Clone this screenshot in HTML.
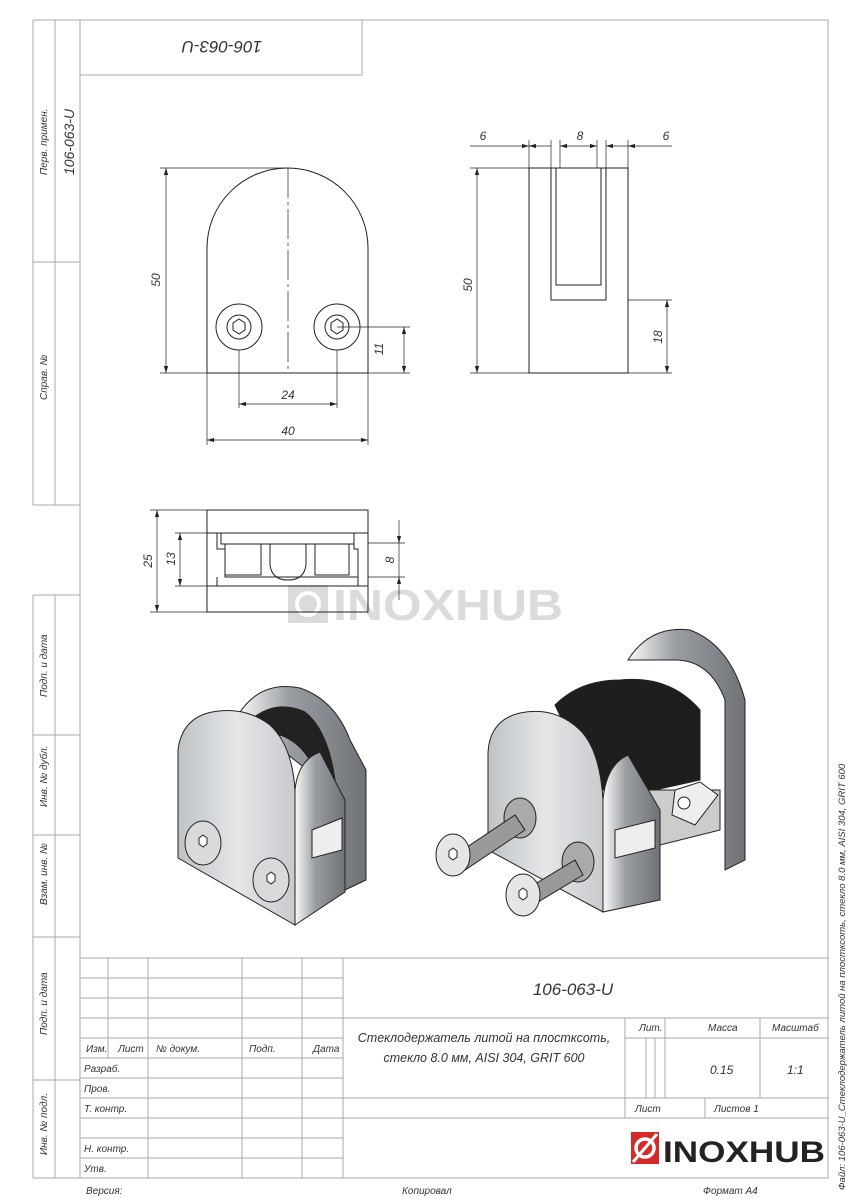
<!DOCTYPE html>
<html><head><meta charset="utf-8"><style>
body{margin:0;background:#fff}
svg{display:block}
text{font-family:"Liberation Sans","DejaVu Sans",sans-serif;font-style:italic;fill:#333}
text.n{font-style:normal;font-weight:bold}
</style></head><body>
<svg width="848" height="1200" viewBox="0 0 848 1200" xmlns="http://www.w3.org/2000/svg">
<defs>
<marker id="a" viewBox="0 0 10 6" refX="10" refY="3" markerWidth="10" markerHeight="6" orient="auto-start-reverse"><path d="M0,0L10,3L0,6Z" fill="#222"/></marker>
<linearGradient id="m" x1="0" x2="1"><stop offset="0" stop-color="#bfc3c6"/><stop offset=".5" stop-color="#e4e6e8"/><stop offset="1" stop-color="#c8cbce"/></linearGradient>
<linearGradient id="s" x1="0" x2="1"><stop offset="0" stop-color="#fafafa"/><stop offset=".4" stop-color="#9a9ea2"/><stop offset="1" stop-color="#6f7377"/></linearGradient>
</defs>
<g fill="none" stroke="#aaa" stroke-width="1">
<rect x="80" y="20" width="748" height="1158"/>
<line x1="33" y1="20" x2="80" y2="20"/><line x1="33" y1="20" x2="33" y2="505"/><line x1="55" y1="20" x2="55" y2="505"/>
<line x1="33" y1="262" x2="80" y2="262"/><line x1="33" y1="505" x2="80" y2="505"/>
<line x1="33" y1="595" x2="80" y2="595"/><line x1="33" y1="595" x2="33" y2="1178"/><line x1="55" y1="595" x2="55" y2="1178"/>
<line x1="33" y1="735" x2="80" y2="735"/><line x1="33" y1="835" x2="80" y2="835"/><line x1="33" y1="937" x2="80" y2="937"/><line x1="33" y1="1080" x2="80" y2="1080"/><line x1="33" y1="1178" x2="80" y2="1178"/>
<rect x="80" y="20" width="282" height="55"/>
<line x1="80" y1="958" x2="828" y2="958"/>
<line x1="80" y1="978" x2="343" y2="978"/><line x1="80" y1="998" x2="343" y2="998"/>
<line x1="80" y1="1018" x2="828" y2="1018"/><line x1="80" y1="1038" x2="343" y2="1038"/>
<line x1="80" y1="1058" x2="343" y2="1058"/><line x1="80" y1="1078" x2="343" y2="1078"/>
<line x1="80" y1="1098" x2="828" y2="1098"/><line x1="80" y1="1118" x2="828" y2="1118"/>
<line x1="80" y1="1138" x2="343" y2="1138"/><line x1="80" y1="1158" x2="343" y2="1158"/>
<line x1="108" y1="958" x2="108" y2="1058"/><line x1="148" y1="958" x2="148" y2="1178"/>
<line x1="242" y1="958" x2="242" y2="1178"/><line x1="302" y1="958" x2="302" y2="1178"/>
<line x1="343" y1="958" x2="343" y2="1178"/>
<line x1="625" y1="1018" x2="625" y2="1118"/><line x1="625" y1="1038" x2="828" y2="1038"/>
<line x1="665" y1="1018" x2="665" y2="1098"/><line x1="760" y1="1018" x2="760" y2="1098"/>
<line x1="646" y1="1038" x2="646" y2="1098"/><line x1="655" y1="1038" x2="655" y2="1098"/>
<line x1="705" y1="1098" x2="705" y2="1118"/>
</g>
<g font-size="10">
<text transform="translate(47,175) rotate(-90)">Перв. примен.</text>
<text transform="translate(74,175) rotate(-90)" font-size="14">106-063-U</text>
<text transform="translate(47,400) rotate(-90)">Справ. №</text>
<text transform="translate(47,697) rotate(-90)">Подп. и дата</text>
<text transform="translate(47,807) rotate(-90)">Инв. № дубл.</text>
<text transform="translate(47,905) rotate(-90)">Взам. инв. №</text>
<text transform="translate(47,1035) rotate(-90)">Подп. и дата</text>
<text transform="translate(47,1155) rotate(-90)">Инв. № подл.</text>
<text transform="translate(845,1190) rotate(-90)" font-size="9.5">Файл: 106-063-U_Стеклодержатель литой на плостксоть, стекло 8.0 мм, AISI 304, GRIT 600</text>
</g>
<text transform="translate(222,41) rotate(180)" font-size="17" text-anchor="middle">106-063-U</text>
<g font-size="10">
<text x="86" y="1052">Изм.</text><text x="118" y="1052">Лист</text><text x="156" y="1052">№ докум.</text><text x="249" y="1052">Подп.</text><text x="313" y="1052">Дата</text>
<text x="84" y="1072">Разраб.</text><text x="84" y="1092">Пров.</text><text x="84" y="1112">Т. контр.</text>
<text x="84" y="1152">Н. контр.</text><text x="84" y="1172">Утв.</text>
<text x="86" y="1194">Версия:</text><text x="402" y="1194">Копировал</text><text x="703" y="1194">Формат А4</text>
<text x="639" y="1031">Лит.</text><text x="708" y="1031">Масса</text><text x="772" y="1031">Масштаб</text>
<text x="710" y="1074" font-size="12">0.15</text><text x="787" y="1074" font-size="12">1:1</text>
<text x="635" y="1112">Лист</text><text x="714" y="1112">Листов 1</text>
</g>
<text x="573" y="995" font-size="17" text-anchor="middle">106-063-U</text>
<text x="484" y="1042" font-size="12.5" text-anchor="middle">Стеклодержатель литой на плостксоть,</text>
<text x="484" y="1062" font-size="12.5" text-anchor="middle">стекло 8.0 мм, AISI 304, GRIT 600</text>
<rect x="631" y="1132" width="28" height="32" fill="#d42a2a"/>
<circle cx="645" cy="1148" r="9" fill="none" stroke="#fff" stroke-width="3.5"/>
<line x1="633" y1="1162" x2="657" y2="1134" stroke="#fff" stroke-width="3"/>
<text class="n" x="663" y="1162" font-size="30" textLength="162" lengthAdjust="spacingAndGlyphs" style="fill:#222">INOXHUB</text>
<g opacity=".35">
<rect x="288" y="585" width="40" height="38" fill="#999"/>
<circle cx="308" cy="604" r="11" fill="none" stroke="#fff" stroke-width="4"/>
<text class="n" x="333" y="620" font-size="44" textLength="230" lengthAdjust="spacingAndGlyphs" style="fill:#999">INOXHUB</text>
</g>
<g fill="none" stroke="#222" stroke-width="1">
<path d="M207,373 L207,248 A80.5,80 0 0 1 368,248 L368,373 Z"/>
<line x1="288" y1="168" x2="288" y2="373" stroke-dasharray="30,4,3,4" stroke-width=".7"/>
<circle cx="239" cy="327" r="23"/><circle cx="239" cy="327" r="12"/>
<circle cx="337" cy="327" r="23"/><circle cx="337" cy="327" r="12"/>
<path d="M233,323 l6,-4 6,4 0,7 -6,4 -6,-4z M331,323 l6,-4 6,4 0,7 -6,4 -6,-4z"/>
<g stroke-width=".7">
<line x1="160" y1="168" x2="288" y2="168"/><line x1="160" y1="373" x2="207" y2="373"/>
<line x1="166" y1="168" x2="166" y2="373" marker-start="url(#a)" marker-end="url(#a)"/>
<line x1="239" y1="350" x2="239" y2="408"/><line x1="337" y1="350" x2="337" y2="408"/>
<line x1="239" y1="404" x2="337" y2="404" marker-start="url(#a)" marker-end="url(#a)"/>
<line x1="207" y1="373" x2="207" y2="445"/><line x1="368" y1="373" x2="368" y2="445"/>
<line x1="207" y1="440" x2="368" y2="440" marker-start="url(#a)" marker-end="url(#a)"/>
<line x1="337" y1="327" x2="410" y2="327"/><line x1="368" y1="373" x2="410" y2="373"/>
<line x1="404" y1="327" x2="404" y2="373" marker-start="url(#a)" marker-end="url(#a)"/>
</g>
<rect x="529" y="168" width="99" height="205"/>
<path d="M551,168 L551,300 L606,300 L606,168"/>
<path d="M556,168 L556,285 L601,285 L601,168"/>
<g stroke-width=".7">
<line x1="470" y1="168" x2="529" y2="168"/><line x1="470" y1="373" x2="529" y2="373"/>
<line x1="477" y1="168" x2="477" y2="373" marker-start="url(#a)" marker-end="url(#a)"/>
<line x1="628" y1="300" x2="672" y2="300"/><line x1="628" y1="373" x2="672" y2="373"/>
<line x1="667" y1="300" x2="667" y2="373" marker-start="url(#a)" marker-end="url(#a)"/>
<line x1="529" y1="140" x2="529" y2="168"/><line x1="551" y1="140" x2="551" y2="168"/><line x1="606" y1="140" x2="606" y2="168"/><line x1="628" y1="140" x2="628" y2="168"/><line x1="560" y1="140" x2="560" y2="168"/><line x1="597" y1="140" x2="597" y2="168"/>
<line x1="470" y1="146" x2="529" y2="146" marker-end="url(#a)"/><line x1="551" y1="146" x2="529" y2="146" marker-end="url(#a)"/>
<line x1="560" y1="146" x2="597" y2="146" marker-start="url(#a)" marker-end="url(#a)"/>
<line x1="606" y1="146" x2="628" y2="146" marker-start="url(#a)"/><line x1="628" y1="146" x2="672" y2="146" marker-start="url(#a)"/>
</g>
<rect x="207" y="510" width="161" height="102"/>
<line x1="207" y1="533" x2="368" y2="533"/><line x1="207" y1="586" x2="368" y2="586"/>
<path d="M217,533 L217,549 L225,549 L225,577 L358,577 L358,549 L354,549 L354,533"/>
<path d="M221,533 L221,544 L354,544"/>
<rect x="225" y="544" width="36" height="31"/><rect x="315" y="544" width="34" height="31"/>
<path d="M270,544 L270,565 Q272,580 288,580 Q304,580 306,565 L306,544"/>
<line x1="217" y1="577" x2="217" y2="586"/><line x1="358" y1="577" x2="358" y2="586"/>
<g stroke-width=".7">
<line x1="150" y1="510" x2="207" y2="510"/><line x1="150" y1="612" x2="207" y2="612"/>
<line x1="157" y1="510" x2="157" y2="612" marker-start="url(#a)" marker-end="url(#a)"/>
<line x1="175" y1="533" x2="207" y2="533"/><line x1="175" y1="586" x2="207" y2="586"/>
<line x1="180" y1="533" x2="180" y2="586" marker-start="url(#a)" marker-end="url(#a)"/>
<line x1="368" y1="543" x2="405" y2="543"/><line x1="368" y1="577" x2="405" y2="577"/>
<line x1="399" y1="520" x2="399" y2="543" marker-end="url(#a)"/><line x1="399" y1="600" x2="399" y2="577" marker-end="url(#a)"/>
<line x1="399" y1="543" x2="399" y2="577"/>
</g>
</g>
<g font-size="12">
<text transform="translate(160,280) rotate(-90)" text-anchor="middle">50</text>
<text x="288" y="399" text-anchor="middle">24</text>
<text x="288" y="435" text-anchor="middle">40</text>
<text transform="translate(383,349) rotate(-90)" text-anchor="middle">11</text>
<text transform="translate(472,285) rotate(-90)" text-anchor="middle">50</text>
<text transform="translate(662,337) rotate(-90)" text-anchor="middle">18</text>
<text x="483" y="140" text-anchor="middle">6</text><text x="580" y="140" text-anchor="middle">8</text><text x="666" y="140" text-anchor="middle">6</text>
<text transform="translate(152,561) rotate(-90)" text-anchor="middle">25</text>
<text transform="translate(175,559) rotate(-90)" text-anchor="middle">13</text>
<text transform="translate(394,560) rotate(-90)" text-anchor="middle">8</text>
</g>
<g stroke="#222" stroke-width="1">
<path d="M238,715 Q260,680 300,688 Q335,700 350,740 L366,770 L366,880 L345,890 L345,800 Z" fill="url(#s)"/>
<path d="M248,722 Q275,698 305,712 Q328,730 335,780 L335,830 L322,835 L322,790 Q310,745 280,735 Z" fill="#222"/>
<path d="M178,750 Q182,718 212,712 Q245,706 270,725 Q292,745 295,790 L295,925 L178,858 Z" fill="url(#m)"/>
<path d="M295,790 Q298,760 320,752 L345,800 L345,892 L295,925 Z" fill="url(#s)"/>
<path d="M312,830 L342,818 L342,850 L312,858 Z" fill="#eee"/>
<ellipse cx="203" cy="843" rx="18" ry="22" fill="#d8dadc"/>
<ellipse cx="271" cy="880" rx="18" ry="22" fill="#d8dadc"/>
<path d="M199,838 l4,-3 4,3 0,6 -4,3 -4,-3z M267,875 l4,-3 4,3 0,6 -4,3 -4,-3z" fill="#fff"/>
</g>
<g stroke="#222" stroke-width="1">
<path d="M628,660 Q650,625 690,630 Q730,645 745,700 L745,860 L725,870 L725,700 Q710,660 675,660 Z" fill="url(#s)"/>
<path d="M555,705 Q580,680 620,680 Q670,675 700,710 L700,780 L655,790 L600,800 Z" fill="#1e1e1e"/>
<path d="M600,790 L720,790 L720,830 L660,845 L620,840 Z" fill="#ccc"/>
<path d="M675,790 L700,782 L718,795 L695,825 L672,815 Z" fill="#eee"/>
<circle cx="684" cy="803" r="6" fill="#fff"/>
<path d="M488,752 Q490,720 520,713 Q555,706 580,730 Q600,750 603,800 L603,912 L488,850 Z" fill="url(#m)"/>
<path d="M603,800 Q606,765 628,755 L660,810 L660,900 L603,912 Z" fill="url(#s)"/>
<path d="M615,830 L655,820 L655,848 L615,858 Z" fill="#eee"/>
<ellipse cx="520" cy="818" rx="16" ry="20" fill="#aaa"/>
<ellipse cx="578" cy="862" rx="16" ry="20" fill="#aaa"/>
<path d="M455,855 L515,815 L525,830 L465,870 Z" fill="#999"/>
<path d="M525,890 L575,860 L583,875 L533,905 Z" fill="#999"/>
<ellipse cx="453" cy="855" rx="17" ry="21" fill="#e6e6e6"/>
<ellipse cx="523" cy="895" rx="17" ry="21" fill="#e6e6e6"/>
<path d="M449,851 l4,-3 4,3 0,6 -4,3 -4,-3z M519,891 l4,-3 4,3 0,6 -4,3 -4,-3z" fill="#fff"/>
</g>
</svg>
</body></html>
